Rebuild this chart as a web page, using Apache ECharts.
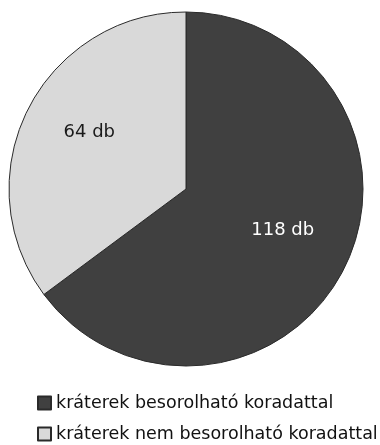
<!DOCTYPE html>
<html>
<head>
<meta charset="utf-8">
<script src="https://cdn.jsdelivr.net/npm/echarts@6/dist/echarts.min.js"></script>
<style>
  html, body { margin: 0; padding: 0; background: #fff; }
  #chart { width: 380px; height: 445px; }
</style>
</head>
<body>
<div id="chart"></div>
<script>
// Crater counts by datable / non-datable age
const categories = ['kráterek besorolható koradattal', 'kráterek nem besorolható koradattal'];
const counts = [118, 64];
const labelTexts = ['118 db', '64 db'];

const sliceColors = ['#404040', '#d9d9d9'];
const labelColors = ['#ffffff', '#1a1a1a'];
const labelOffsets = [[15, 0], [-15, -16]];

const chart = echarts.init(document.getElementById('chart'), null, { renderer: 'canvas' });

chart.setOption({
  animation: false,
  legend: {
    orient: 'vertical',
    left: 37,
    top: 393,
    height: 60,
    padding: 0,
    icon: 'rect',
    itemWidth: 13,
    itemHeight: 13,
    itemGap: 11,
    textStyle: { fontFamily: 'DejaVu Sans', fontSize: 17.5, lineHeight: 20, color: '#111' },
    data: categories
  },
  series: [{
    type: 'pie',
    center: [186, 189],
    radius: [0, 177],
    startAngle: 90,
    clockwise: true,
    avoidLabelOverlap: false,
    itemStyle: { borderColor: '#2a2a2a', borderWidth: 1 },
    label: {
      show: true,
      position: 'inside',
      fontFamily: 'DejaVu Sans',
      fontSize: 18
    },
    labelLine: { show: false },
    emphasis: { disabled: true },
    data: categories.map((name, i) => ({
      name,
      value: counts[i],
      itemStyle: { color: sliceColors[i] },
      label: { formatter: labelTexts[i], color: labelColors[i], offset: labelOffsets[i] }
    }))
  }]
});
</script>
</body>
</html>
